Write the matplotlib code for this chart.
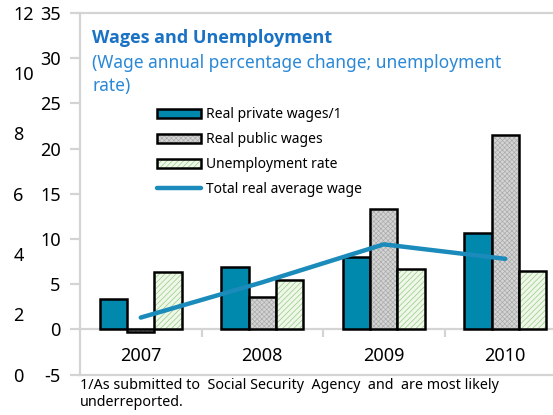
import matplotlib
matplotlib.use("Agg")
import matplotlib.pyplot as plt
from matplotlib.patches import Patch
from matplotlib.lines import Line2D
import numpy as np

plt.rcParams['font.family'] = ['Noto Sans', 'DejaVu Sans']
plt.rcParams['hatch.linewidth'] = 0.45
plt.rcParams['axes.unicode_minus'] = False

years = ["2007", "2008", "2009", "2010"]
private_wages = [3.3, 6.9, 8.0, 10.7]
public_wages = [-0.3, 3.6, 13.3, 21.5]
unemployment = [6.3, 5.5, 6.7, 6.5]
total_wage = [1.3, 5.2, 9.4, 7.8]
left_ticks = [0, 2, 4, 6, 8, 10, 12]

teal = '#0088AD'
line_c = '#1A8BBA'
grid_c = '#D4D4D4'
edge = 'black'
gray_fc, gray_hc, gray_h = '#D4D4D4', '#A8A8A8', 'xxxxxxx'
green_fc, green_hc, green_h = '#EEF7E8', '#8CC77A', '//////'

W, H = 553, 415
fig = plt.figure(figsize=(W / 100, H / 100), dpi=100)
ax = fig.add_axes([80 / W, (H - 374.5) / H, 486 / W, 361.5 / H])

x = np.arange(len(years))
bw = 0.225
lw_edge = 1.8

ax.bar(x - bw, private_wages, bw, color=teal, edgecolor=edge, linewidth=lw_edge, zorder=2)
# gray hatched bars (hatch layer, then black outline)
ax.bar(x, public_wages, bw, color=gray_fc, edgecolor=gray_hc, hatch=gray_h, linewidth=0, zorder=2)
ax.bar(x, public_wages, bw, fill=False, edgecolor=edge, linewidth=lw_edge, zorder=2)
# green hatched bars
ax.bar(x + bw, unemployment, bw, color=green_fc, edgecolor=green_hc, hatch=green_h, linewidth=0, zorder=2)
ax.bar(x + bw, unemployment, bw, fill=False, edgecolor=edge, linewidth=lw_edge, zorder=2)

ax.plot(x, total_wage, color=line_c, linewidth=3.2, solid_capstyle='round', zorder=3)

ax.set_xlim(-0.5, 3.5)
ax.set_ylim(-5, 35)
ax.set_yticks(range(-5, 36, 5))
ax.set_xticks(x)
ax.set_xticklabels(years)
ax.set_xticks([0.5, 1.5, 2.5], minor=True)

for s in ['left', 'top', 'bottom']:
    ax.spines[s].set_color(grid_c)
    ax.spines[s].set_linewidth(1.6)
ax.spines['right'].set_visible(False)
ax.spines['bottom'].set_position(('data', 0))
ax.spines['bottom'].set_zorder(1)
ax.axhline(-5, color=grid_c, linewidth=1.6, clip_on=False)

ax.tick_params(axis='y', colors=grid_c, labelcolor='black', labelsize=13,
               length=7, width=1.6, pad=7)
ax.tick_params(axis='x', which='major', length=0, labelsize=13, pad=13)
ax.tick_params(axis='x', which='minor', length=6, width=1.6, color=grid_c)

# stray secondary scale on the far left
ax2 = ax.twinx()
ax2.set_ylim(0, 12)
ax2.set_yticks(left_ticks)
ax2.yaxis.tick_left()
for s in ax2.spines.values():
    s.set_visible(False)
ax2.tick_params(axis='y', length=0, labelsize=13, pad=48)
for lab in ax2.get_yticklabels():
    lab.set_horizontalalignment('left')

fig.text(92 / W, 1 - 38 / H, "Wages and Unemployment", color='#1A72C4',
         fontsize=13, fontweight='bold', family=['Open Sans', 'DejaVu Sans'], va='center')
fig.text(92 / W, 1 - 74.5 / H, "(Wage annual percentage change; unemployment\nrate)",
         color='#2A88D6', fontsize=12.5, va='center', linespacing=1.35)

handles = [
    Patch(facecolor=teal, edgecolor=edge, linewidth=lw_edge),
    (Patch(facecolor=gray_fc, edgecolor=gray_hc, hatch=gray_h, linewidth=0),
     Patch(fill=False, edgecolor=edge, linewidth=lw_edge)),
    (Patch(facecolor=green_fc, edgecolor=green_hc, hatch=green_h, linewidth=0),
     Patch(fill=False, edgecolor=edge, linewidth=lw_edge)),
    Line2D([], [], color=line_c, linewidth=3.2, solid_capstyle='round'),
]
labels = ["Real private wages/1", "Real public wages", "Unemployment rate",
          "Total real average wage"]
ax.legend(handles, labels, loc='upper left', bbox_to_anchor=(157 / W, 1 - 107 / H),
          bbox_transform=fig.transFigure, frameon=False, fontsize=10,
          handlelength=3.2, handleheight=0.6, handletextpad=0.3,
          labelspacing=0.72, borderpad=0, borderaxespad=0)

fig.text(80 / W, 1 - 378 / H,
         "1/As submitted to  Social Security  Agency  and  are most likely\nunderreported.",
         fontsize=10.3, va='top', linespacing=1.2)

fig.savefig("out.png", dpi=100)
